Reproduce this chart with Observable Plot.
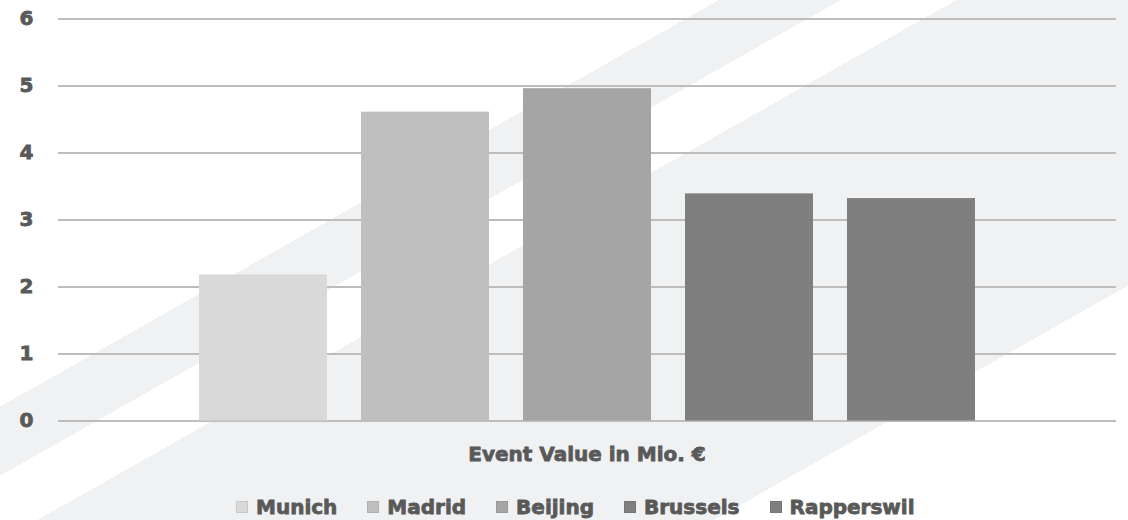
<!DOCTYPE html>
<html>
<head>
<meta charset="utf-8">
<script src="https://cdn.jsdelivr.net/npm/d3@7"></script>
<script src="https://cdn.jsdelivr.net/npm/@observablehq/plot@0.6"></script>
<style>
  html, body { margin: 0; padding: 0; }
  body {
    width: 1128px; height: 520px; overflow: hidden;
    font-family: "DejaVu Sans", sans-serif;
    background: linear-gradient(150.5deg,
      #ffffff 0px, #ffffff 354px,
      #f0f1f3 354px, #f0f1f3 414px,
      #ffffff 414px, #ffffff 471px,
      #f0f1f3 471px, #f0f1f3 804px,
      #ffffff 804px, #ffffff 1010px);
  }
  #chart svg { display: block; background: transparent; }
  #chart svg text { stroke: #595959; stroke-width: 0.8px; paint-order: stroke; }
  #xlabel {
    margin-top: 2px; height: 24px; line-height: 24px;
    font-size: 20px; font-weight: bold; color: #595959;
    -webkit-text-stroke: 0.8px #595959;
    text-align: center; padding-left: 46px;
  }
  #legend {
    margin-top: 29px; height: 24px; line-height: 24px;
    display: flex; align-items: center;
    padding-left: 236px;
    font-size: 20px; font-weight: bold; color: #595959;
  }
  .item { display: flex; align-items: center; margin-right: 30px; }
  .lt { -webkit-text-stroke: 0.8px #595959; }
  .sw { width: 12px; height: 12px; margin-right: 8px; box-sizing: border-box; border: 1px solid rgba(0,0,0,0.08); }
</style>
</head>
<body>
<div id="chart"></div>
<div id="xlabel"></div>
<div id="legend"></div>
<script>
const cities = ["Munich", "Madrid", "Beijing", "Brussels", "Rapperswil"];
const values = [2.18, 4.61, 4.96, 3.39, 3.32];
const colors = ["#d9d9d9", "#bfbfbf", "#a5a5a5", "#7f7f7f", "#7f7f7f"];
const yTicks = [0, 1, 2, 3, 4, 5, 6];
const xTitle = "Event Value in Mio. €";

const data = cities.map((c, i) => ({city: c, value: values[i]}));

const chart = Plot.plot({
  width: 1128,
  height: 440,
  marginTop: 18.5,
  marginBottom: 19.5,
  marginLeft: 58,
  marginRight: 12,
  style: {fontFamily: "DejaVu Sans", fontWeight: "bold", fontSize: "20px", color: "#595959", background: "transparent"},
  x: {domain: cities, range: [180.5, 993], paddingInner: 0.21, paddingOuter: 0.105, axis: null},
  y: {domain: [0, 6]},
  color: {domain: cities, range: colors},
  marks: [
    Plot.ruleY(yTicks, {stroke: "#bdbdbd", strokeWidth: 2}),
    Plot.barY(data, {x: "city", y: "value", fill: "city"}),
    Plot.axisY({ticks: yTicks, tickSize: 0, tickPadding: 25, label: null, tickFormat: d => String(d)})
  ]
});
document.getElementById("chart").appendChild(chart);

document.getElementById("xlabel").textContent = xTitle;

const legend = document.getElementById("legend");
cities.forEach((c, i) => {
  const item = document.createElement("div");
  item.className = "item";
  const sw = document.createElement("span");
  sw.className = "sw";
  sw.style.background = colors[i];
  const t = document.createElement("span");
  t.className = "lt";
  t.textContent = c;
  item.appendChild(sw);
  item.appendChild(t);
  legend.appendChild(item);
});
</script>
</body>
</html>
